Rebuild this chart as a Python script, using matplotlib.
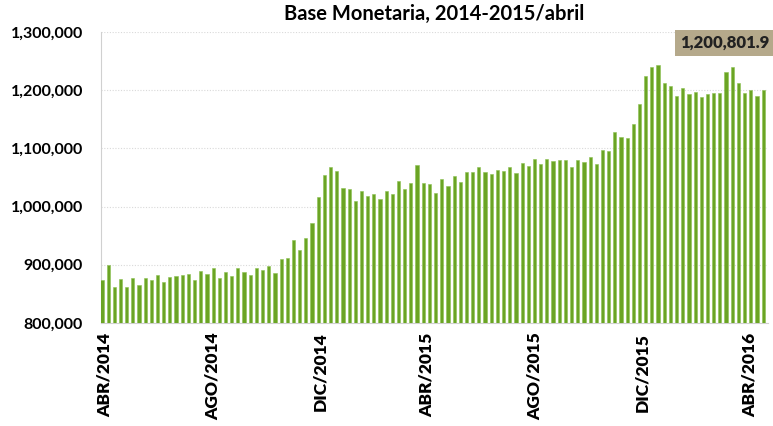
import matplotlib
matplotlib.use("Agg")
import matplotlib.pyplot as plt
import pandas as pd

plt.rcParams['font.family'] = ['Lato', 'DejaVu Sans']

start_date = "2014-03-29"
n_weeks = 108
values = [
    873400, 899700, 862500, 875600, 862500, 877400, 865900, 877400, 873400, 882500,
    870500, 878500, 880200, 882500, 884200, 874500, 890000, 884200, 895100, 878000,
    887700, 880800, 894000, 887100, 882000, 894600, 891700, 898600, 886500, 910000,
    911200, 942700, 924900, 945600, 972500, 1016600, 1055000, 1067600, 1061900, 1032700,
    1030400, 1009700, 1026400, 1017800, 1021800, 1013800, 1026900, 1021200, 1043600, 1030900,
    1040700, 1071100, 1040700, 1039000, 1023500, 1047600, 1036100, 1052100, 1043000, 1059600,
    1059600, 1067600, 1059600, 1056200, 1063600, 1061300, 1068200, 1058500, 1075100, 1069900,
    1081900, 1073400, 1081900, 1079100, 1079700, 1079700, 1068800, 1080800, 1076800, 1085400,
    1073400, 1096800, 1095700, 1127800, 1120300, 1118600, 1141500, 1177100, 1224100, 1240700,
    1243600, 1212600, 1208000, 1190800, 1204600, 1193700, 1197700, 1189100, 1193700, 1195400,
    1194800, 1231500, 1239500, 1212600, 1195400, 1200600, 1189700, 1200801.9,
]
tick_dates = ["2014-04-01", "2014-08-01", "2014-12-01", "2015-04-01", "2015-08-01", "2015-12-01", "2016-04-01"]
tick_labels = ["ABR/2014", "AGO/2014", "DIC/2014", "ABR/2015", "AGO/2015", "DIC/2015", "ABR/2016"]
y_ticks = [800000, 900000, 1000000, 1100000, 1200000, 1300000]
title = "Base Monetaria, 2014-2015/abril"
last_label = "1,200,801.9"

dates = pd.date_range(start_date, periods=n_weeks, freq="7D")

fig = plt.figure(figsize=(7.73, 4.26), dpi=100)
ax = fig.add_axes([0.1307, 0.2418, 0.8628, 0.6831])

ax.bar(dates, values, width=3.6, color="#6ba424", edgecolor="#8cc152", linewidth=0.4, zorder=3)

ax.set_ylim(800000, 1300000)
ax.set_yticks(y_ticks)
ax.set_yticklabels([f"{v:,.0f}" for v in y_ticks], fontsize=11.5, fontweight="bold")
ax.set_xlim(dates[0] - pd.Timedelta(days=1), dates[-1] + pd.Timedelta(days=5.5))
ax.set_xticks(pd.to_datetime(tick_dates))
ax.set_xticklabels(tick_labels, rotation=90, fontsize=12.5)
for t in ax.get_xticklabels():
    t.set_fontweight("heavy")

ax.grid(axis="y", linestyle=(0, (1, 1.5)), color="#d9d9d9", linewidth=0.8, zorder=0)
ax.tick_params(axis="y", length=0, pad=13)
ax.tick_params(axis="x", length=0, pad=7)
for s in ["top", "right"]:
    ax.spines[s].set_visible(False)
ax.spines["left"].set_color("#d0d0d0")
ax.spines["bottom"].set_color("#d0d0d0")

ax.set_title(title, fontsize=14.5, fontweight="bold", pad=9)

fig.text(0.9373, 0.899, last_label, ha="center", va="center",
         fontsize=12, fontweight="heavy", color="#222222",
         bbox=dict(boxstyle="square,pad=0.3", facecolor="#b5a98b", edgecolor="none"), zorder=5)

fig.savefig("out.png", dpi=100)
